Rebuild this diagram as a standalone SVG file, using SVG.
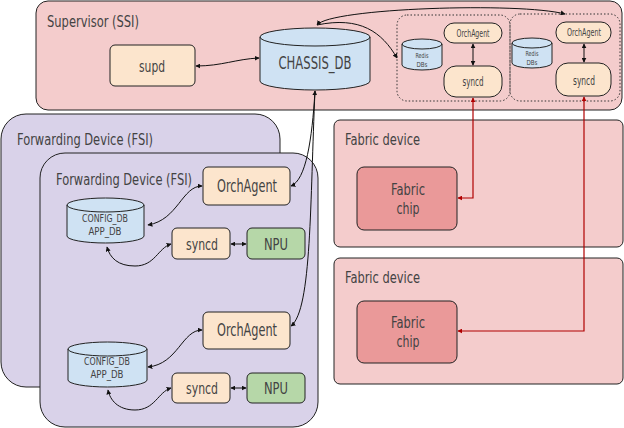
<svg xmlns="http://www.w3.org/2000/svg" width="624" height="428" viewBox="0 0 624 428">
<defs>
<style>
text{font-family:"Liberation Sans Narrow","DejaVu Sans Condensed","Roboto",sans-serif;fill:#434343;text-anchor:middle}
.t{text-anchor:start}
.box{stroke:#222;stroke-width:1}
.sup{fill:#f4cccc}
.fsi{fill:#d9d2e9}
.pe{fill:#fce5cd}
.db{fill:#cfe2f3}
.npu{fill:#b6d7a8}
.chip{fill:#ea9999}
.grp{fill:none;stroke:#333;stroke-width:1;stroke-dasharray:1.5,2}
.c{fill:none;stroke:#111;stroke-width:1}
.r{fill:none;stroke:#b00000;stroke-width:1.2}
</style>
<marker id="a" viewBox="0 0 8 8" refX="7" refY="4" markerWidth="5" markerHeight="5" orient="auto-start-reverse" markerUnits="userSpaceOnUse"><path d="M0,0 L8,4 L0,8 Z" fill="#111"/></marker>
<marker id="ar" viewBox="0 0 8 8" refX="7" refY="4" markerWidth="5" markerHeight="5" orient="auto-start-reverse" markerUnits="userSpaceOnUse"><path d="M0,0 L8,4 L0,8 Z" fill="#b00000"/></marker>
</defs>

<g id="supervisor">
<rect class="box sup" x="36" y="1" width="586" height="109" rx="12"/>
<text class="t" x="47" y="27" font-size="16" textLength="92" lengthAdjust="spacingAndGlyphs">Supervisor (SSI)</text>
</g>

<g id="supd">
<rect class="box pe" x="110" y="45" width="85" height="41" rx="5"/>
<text x="152" y="72" font-size="16" textLength="26" lengthAdjust="spacingAndGlyphs">supd</text>
</g>

<g id="chassis_db">
<path class="box db" d="M260,37 A55,9 0 0 1 370,37 L370,81 A55,9 0 0 1 260,81 Z"/>
<path class="box" fill="none" d="M260,37 A55,9 0 0 0 370,37"/>
<text x="315" y="69" font-size="18" textLength="73" lengthAdjust="spacingAndGlyphs">CHASSIS_DB</text>
</g>

<g id="group1">
<rect class="grp" x="397" y="15" width="113" height="86" rx="10"/>
</g>
<g id="group2">
<rect class="grp" x="510" y="14" width="110" height="87" rx="10"/>
</g>

<g id="redis1">
<path class="box db" d="M402,44 A20,5 0 0 1 442,44 L442,65 A20,5 0 0 1 402,65 Z"/>
<path class="box" fill="none" d="M402,44 A20,5 0 0 0 442,44"/>
<text x="422" y="58" font-size="7" textLength="13" lengthAdjust="spacingAndGlyphs">Redis</text>
<text x="422" y="67" font-size="7" textLength="11" lengthAdjust="spacingAndGlyphs">DBs</text>
</g>
<g id="orch_s1">
<rect class="box pe" x="444" y="23" width="58" height="20" rx="10"/>
<text x="473" y="37" font-size="10" textLength="33" lengthAdjust="spacingAndGlyphs">OrchAgent</text>
</g>
<g id="syncd_s1">
<rect class="box pe" x="444" y="66" width="58" height="31" rx="12"/>
<text x="473" y="86" font-size="13" textLength="21" lengthAdjust="spacingAndGlyphs">syncd</text>
</g>

<g id="redis2">
<path class="box db" d="M512,43 A20,5 0 0 1 552,43 L552,63 A20,5 0 0 1 512,63 Z"/>
<path class="box" fill="none" d="M512,43 A20,5 0 0 0 552,43"/>
<text x="532" y="56" font-size="7" textLength="13" lengthAdjust="spacingAndGlyphs">Redis</text>
<text x="532" y="65" font-size="7" textLength="11" lengthAdjust="spacingAndGlyphs">DBs</text>
</g>
<g id="orch_s2">
<rect class="box pe" x="556" y="22" width="55" height="21" rx="10"/>
<text x="584" y="36" font-size="10" textLength="34" lengthAdjust="spacingAndGlyphs">OrchAgent</text>
</g>
<g id="syncd_s2">
<rect class="box pe" x="556" y="63" width="55" height="33" rx="12"/>
<text x="584" y="85" font-size="13" textLength="22" lengthAdjust="spacingAndGlyphs">syncd</text>
</g>

<g id="fsi_outer">
<rect class="box fsi" x="1" y="114" width="279" height="273" rx="25"/>
<text class="t" x="17" y="145" font-size="16" textLength="136" lengthAdjust="spacingAndGlyphs">Forwarding Device (FSI)</text>
</g>

<g id="fsi_inner">
<rect class="box fsi" x="40" y="153" width="278" height="274" rx="25"/>
<text class="t" x="56" y="185" font-size="16" textLength="136" lengthAdjust="spacingAndGlyphs">Forwarding Device (FSI)</text>
</g>

<g id="orch1">
<rect class="box pe" x="203" y="167" width="87" height="38" rx="5"/>
<text x="247" y="192" font-size="18" textLength="60" lengthAdjust="spacingAndGlyphs">OrchAgent</text>
</g>
<g id="configdb1">
<path class="box db" d="M67,205 A38.5,7 0 0 1 144,205 L144,236 A38.5,7 0 0 1 67,236 Z"/>
<path class="box" fill="none" d="M67,205 A38.5,7 0 0 0 144,205"/>
<text x="105" y="222" font-size="11" textLength="46" lengthAdjust="spacingAndGlyphs">CONFIG_DB</text>
<text x="105" y="235" font-size="11" textLength="33" lengthAdjust="spacingAndGlyphs">APP_DB</text>
</g>
<g id="syncd1">
<rect class="box pe" x="172" y="228" width="58" height="31" rx="5"/>
<text x="202" y="250" font-size="16" textLength="32" lengthAdjust="spacingAndGlyphs">syncd</text>
</g>
<g id="npu1">
<rect class="box npu" x="247" y="228" width="58" height="31" rx="5"/>
<text x="276" y="250" font-size="16" textLength="24" lengthAdjust="spacingAndGlyphs">NPU</text>
</g>

<g id="orch2">
<rect class="box pe" x="203" y="312" width="87" height="37" rx="5"/>
<text x="247" y="336" font-size="18" textLength="60" lengthAdjust="spacingAndGlyphs">OrchAgent</text>
</g>
<g id="configdb2">
<path class="box db" d="M68,349 A39.5,7 0 0 1 147,349 L147,380 A39.5,7 0 0 1 68,380 Z"/>
<path class="box" fill="none" d="M68,349 A39.5,7 0 0 0 147,349"/>
<text x="107" y="365" font-size="11" textLength="46" lengthAdjust="spacingAndGlyphs">CONFIG_DB</text>
<text x="107" y="378" font-size="11" textLength="33" lengthAdjust="spacingAndGlyphs">APP_DB</text>
</g>
<g id="syncd2">
<rect class="box pe" x="172" y="373" width="58" height="30" rx="5"/>
<text x="202" y="394" font-size="16" textLength="32" lengthAdjust="spacingAndGlyphs">syncd</text>
</g>
<g id="npu2">
<rect class="box npu" x="247" y="373" width="58" height="30" rx="5"/>
<text x="276" y="394" font-size="16" textLength="24" lengthAdjust="spacingAndGlyphs">NPU</text>
</g>

<g id="fabric1">
<rect class="box sup" x="334" y="120" width="289" height="127" rx="6"/>
<text class="t" x="345" y="145" font-size="16" textLength="75" lengthAdjust="spacingAndGlyphs">Fabric device</text>
</g>
<g id="chip1">
<rect class="box chip" x="357" y="167" width="100" height="63" rx="7"/>
<text x="408" y="195" font-size="15" textLength="34" lengthAdjust="spacingAndGlyphs">Fabric</text>
<text x="408" y="214" font-size="15" textLength="23" lengthAdjust="spacingAndGlyphs">chip</text>
</g>
<g id="fabric2">
<rect class="box sup" x="334" y="258" width="289" height="126" rx="6"/>
<text class="t" x="345" y="283" font-size="16" textLength="75" lengthAdjust="spacingAndGlyphs">Fabric device</text>
</g>
<g id="chip2">
<rect class="box chip" x="357" y="301" width="100" height="62" rx="7"/>
<text x="408" y="328" font-size="15" textLength="34" lengthAdjust="spacingAndGlyphs">Fabric</text>
<text x="408" y="347" font-size="15" textLength="23" lengthAdjust="spacingAndGlyphs">chip</text>
</g>

<g id="connectors">
<path class="c" d="M196,66 C222,66 236,59 259,58" marker-start="url(#a)" marker-end="url(#a)"/>
<path class="c" d="M317,25 C330,8 520,2 565,14" marker-start="url(#a)" marker-end="url(#a)"/>
<path class="c" d="M317,25 C360,16 382,32 397,58" marker-end="url(#a)"/>
<path class="c" d="M473,44 L473,65" marker-start="url(#a)" marker-end="url(#a)"/>
<path class="c" d="M584,44 L584,62" marker-start="url(#a)" marker-end="url(#a)"/>
<path class="c" d="M315,91 C312,140 306,180 291,186" marker-start="url(#a)" marker-end="url(#a)"/>
<path class="c" d="M315,91 C310,200 312,310 291,326" marker-end="url(#a)"/>
<path class="c" d="M202,186 C182,186 178,220 148,225" marker-start="url(#a)" marker-end="url(#a)"/>
<path class="c" d="M171,244 C158,248 155,266 135,266 C118,266 110,258 107,247" marker-start="url(#a)" marker-end="url(#a)"/>
<path class="c" d="M231,244 L246,244" marker-start="url(#a)" marker-end="url(#a)"/>
<path class="c" d="M202,330 C182,330 178,364 148,367" marker-start="url(#a)" marker-end="url(#a)"/>
<path class="c" d="M171,388 C158,392 155,410 135,410 C118,410 110,400 108,390" marker-start="url(#a)" marker-end="url(#a)"/>
<path class="c" d="M231,388 L246,388" marker-start="url(#a)" marker-end="url(#a)"/>
<path class="r" d="M473,98 L473,198 L458,198" marker-start="url(#ar)" marker-end="url(#ar)"/>
<path class="r" d="M584,97 L584,331 L458,331" marker-start="url(#ar)" marker-end="url(#ar)"/>
</g>
</svg>
